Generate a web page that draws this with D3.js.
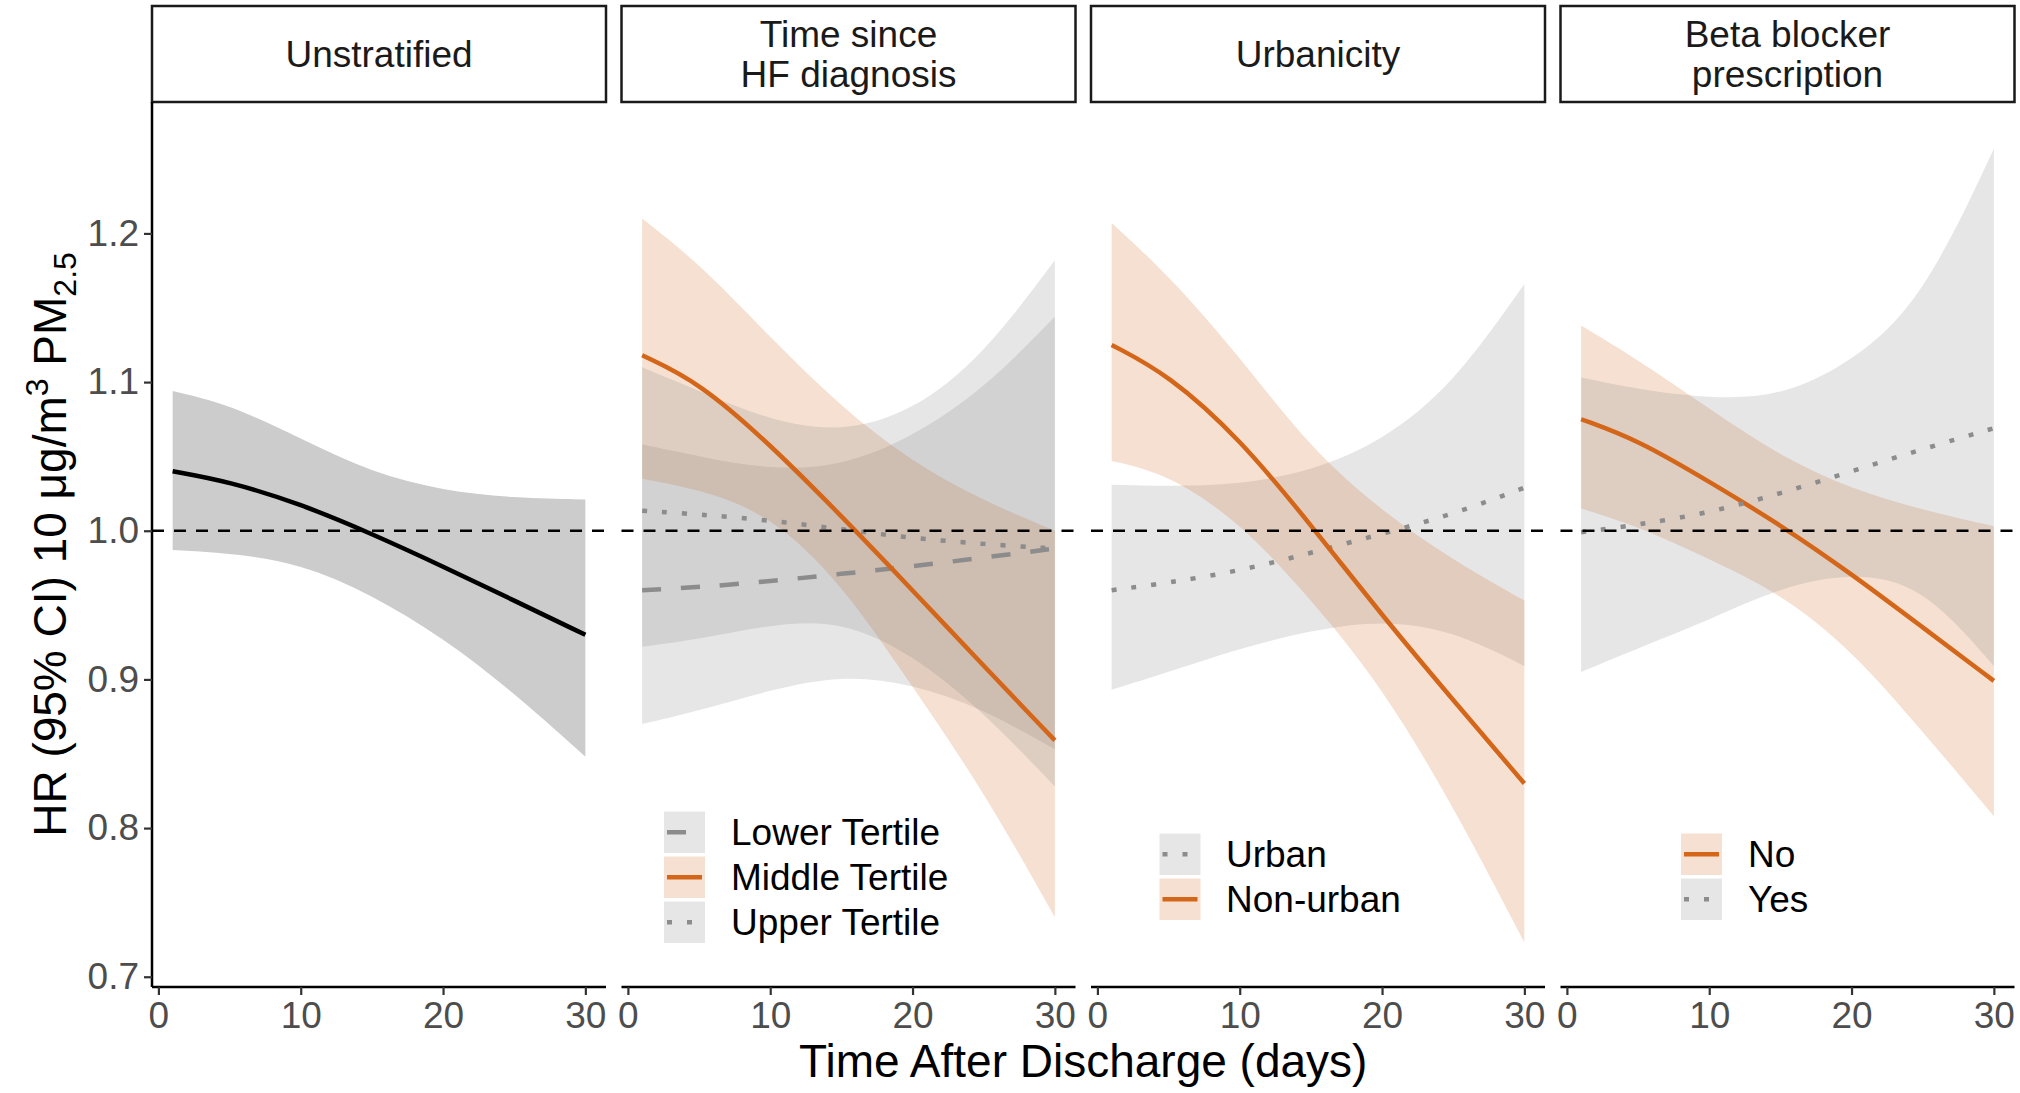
<!DOCTYPE html>
<html><head><meta charset="utf-8">
<script src="https://cdn.jsdelivr.net/npm/d3@7"></script>
<style>
body{margin:0;background:#fff}
text{font-family:"Liberation Sans",Arial,Helvetica,sans-serif}
</style>
</head><body>
<svg id="chart" width="2020" height="1093"></svg>
<script>
// ---------------- data ----------------
const days = [1, 5, 10, 15, 20, 25, 30];
const panelTitles = [["Unstratified"], ["Time since", "HF diagnosis"], ["Urbanicity"], ["Beta blocker", "prescription"]];
const xTickValues = [0, 10, 20, 30];
const yTickValues = [0.7, 0.8, 0.9, 1.0, 1.1, 1.2];

// Unstratified
const unstratFit = [1.040, 1.033, 1.018, 0.998, 0.976, 0.953, 0.930];
const unstratLo  = [0.987, 0.985, 0.978, 0.957, 0.928, 0.891, 0.848];
const unstratHi  = [1.094, 1.085, 1.062, 1.039, 1.027, 1.022, 1.021];

// Time since HF diagnosis
const lowerTertFit = [0.960, 0.962, 0.966, 0.971, 0.976, 0.982, 0.988];
const lowerTertLo  = [0.870, 0.879, 0.893, 0.903, 0.897, 0.880, 0.853];
const lowerTertHi  = [1.058, 1.050, 1.041, 1.043, 1.063, 1.095, 1.144];
const middleTertFit = [1.118, 1.100, 1.058, 1.010, 0.960, 0.909, 0.859];
const middleTertLo  = [1.035, 1.028, 1.011, 0.965, 0.895, 0.825, 0.740];
const middleTertHi  = [1.210, 1.180, 1.130, 1.083, 1.046, 1.020, 1.000];
const upperTertFit = [1.0135, 1.011, 1.007, 1.001, 0.995, 0.991, 0.988];
const upperTertLo  = [0.922, 0.927, 0.937, 0.940, 0.917, 0.878, 0.828];
const upperTertHi  = [1.110, 1.094, 1.074, 1.066, 1.080, 1.118, 1.182];

// Urbanicity
const urbanFit = [0.960, 0.965, 0.973, 0.985, 0.998, 1.011, 1.029];
const urbanLo  = [0.893, 0.905, 0.921, 0.933, 0.940, 0.933, 0.909];
const urbanHi  = [1.031, 1.030, 1.031, 1.040, 1.060, 1.098, 1.166];
const nonUrbanFit = [1.125, 1.105, 1.062, 1.004, 0.943, 0.886, 0.830];
const nonUrbanLo  = [1.047, 1.038, 1.006, 0.954, 0.895, 0.815, 0.723];
const nonUrbanHi  = [1.207, 1.172, 1.117, 1.055, 1.013, 0.980, 0.953];

// Beta blocker prescription
const bbNoFit = [1.075, 1.061, 1.033, 1.004, 0.971, 0.935, 0.899];
const bbNoLo  = [1.015, 1.003, 0.981, 0.958, 0.920, 0.865, 0.808];
const bbNoHi  = [1.138, 1.115, 1.082, 1.050, 1.028, 1.014, 1.003];
const bbYesFit = [0.999, 1.004, 1.012, 1.025, 1.040, 1.055, 1.069];
const bbYesLo  = [0.905, 0.921, 0.940, 0.962, 0.972, 0.964, 0.909];
const bbYesHi  = [1.103, 1.095, 1.089, 1.090, 1.113, 1.155, 1.257];

const series = [
  {panel:0, name:"Unstratified", fit:unstratFit, lo:unstratLo, hi:unstratHi, kind:"black", lty:"solid"},
  {panel:1, name:"Lower Tertile", fit:lowerTertFit, lo:lowerTertLo, hi:lowerTertHi, kind:"grey", lty:"dashed"},
  {panel:1, name:"Middle Tertile", fit:middleTertFit, lo:middleTertLo, hi:middleTertHi, kind:"orange", lty:"solid"},
  {panel:1, name:"Upper Tertile", fit:upperTertFit, lo:upperTertLo, hi:upperTertHi, kind:"grey", lty:"dotted"},
  {panel:2, name:"Urban", fit:urbanFit, lo:urbanLo, hi:urbanHi, kind:"grey", lty:"dotted"},
  {panel:2, name:"Non-urban", fit:nonUrbanFit, lo:nonUrbanLo, hi:nonUrbanHi, kind:"orange", lty:"solid"},
  {panel:3, name:"No", fit:bbNoFit, lo:bbNoLo, hi:bbNoHi, kind:"orange", lty:"solid"},
  {panel:3, name:"Yes", fit:bbYesFit, lo:bbYesLo, hi:bbYesHi, kind:"grey", lty:"dotted"}
];

// ---------------- styles ----------------
const lineColor = {black:"#000000", grey:"#8C8C8C", orange:"#D4661A"};
const bandColor = {black:"#000000", grey:"#808080", orange:"#D4661A"};
const bandAlpha = 0.2;
const LW = 4.5;
const dash = {solid:null, dashed:"19,20", dotted:"5,15"};
const curve = d3.curveBasis;

// ---------------- layout ----------------
const svg = d3.select("#chart");
const panelLefts = [152, 621.5, 1091, 1560.5];
const panelW = 454;
const stripTop = 6, stripBottom = 102;
const plotTop = 102, plotBottom = 987;

const y = d3.scaleLinear().domain([0.6931, 1.2884]).range([plotBottom, plotTop]);
const xFor = left => d3.scaleLinear().domain([-0.45, 31.45]).range([left, left + panelW]);

const legends = {
  1: {keyX: 664, textX: 731, top: 811.5, order: ["Lower Tertile", "Middle Tertile", "Upper Tertile"]},
  2: {keyX: 1159.5, textX: 1226, top: 833.5, order: ["Urban", "Non-urban"]},
  3: {keyX: 1681, textX: 1748, top: 833.5, order: ["No", "Yes"]}
};

panelLefts.forEach((left, pi) => {
  const x = xFor(left);
  const g = svg.append("g");

  // strip
  g.append("rect").attr("x", left).attr("y", stripTop).attr("width", panelW).attr("height", stripBottom - stripTop)
    .attr("fill", "#fff").attr("stroke", "#1A1A1A").attr("stroke-width", 2.5);
  const lines = panelTitles[pi];
  const cy = (stripTop + stripBottom) / 2;
  lines.forEach((t, i) => {
    g.append("text").attr("x", left + panelW / 2)
      .attr("y", cy + (i - (lines.length - 1) / 2) * 40)
      .attr("text-anchor", "middle").attr("dominant-baseline", "central")
      .attr("font-size", 37).attr("fill", "#1A1A1A").text(t);
  });

  const ps = series.filter(s => s.panel === pi);
  // ribbons
  ps.forEach(s => {
    const area = d3.area()
      .x((d, i) => x(days[i])).y0((d, i) => y(s.lo[i])).y1((d, i) => y(s.hi[i]))
      .curve(curve);
    g.append("path").datum(s.fit).attr("d", area)
      .attr("fill", bandColor[s.kind]).attr("fill-opacity", bandAlpha);
  });
  // lines
  ps.forEach(s => {
    const line = d3.line().x((d, i) => x(days[i])).y(d => y(d)).curve(curve);
    g.append("path").datum(s.fit).attr("d", line).attr("fill", "none")
      .attr("stroke", lineColor[s.kind]).attr("stroke-width", LW)
      .attr("stroke-dasharray", dash[s.lty]);
  });
  // reference line at 1
  g.append("line").attr("x1", left).attr("x2", left + panelW).attr("y1", y(1)).attr("y2", y(1))
    .attr("stroke", "#000").attr("stroke-width", 2.6).attr("stroke-dasharray", "12,10");

  // x axis
  const xAxis = d3.axisBottom(x).tickValues(xTickValues).tickSize(8).tickPadding(7).tickFormat(d3.format("d"));
  const ax = g.append("g").attr("transform", `translate(0,${plotBottom})`).call(xAxis);
  ax.select(".domain").attr("stroke", "#000").attr("stroke-width", 2.5).attr("d", `M${left},0H${left + panelW}`);
  ax.selectAll(".tick line").attr("stroke", "#333").attr("stroke-width", 2.2);
  ax.selectAll(".tick text").attr("font-size", 37).attr("fill", "#4D4D4D")
    .attr("font-family", '"Liberation Sans",Arial,sans-serif');

  // y axis only on first panel
  if (pi === 0) {
    const yAxis = d3.axisLeft(y).tickValues(yTickValues).tickSize(8).tickPadding(5).tickFormat(d3.format(".1f"));
    const ay = g.append("g").attr("transform", `translate(${left},0)`).call(yAxis);
    ay.select(".domain").attr("stroke", "#000").attr("stroke-width", 2.5).attr("d", `M0,${plotTop}V${plotBottom}`);
    ay.selectAll(".tick line").attr("stroke", "#333").attr("stroke-width", 2.2);
    ay.selectAll(".tick text").attr("font-size", 37).attr("fill", "#4D4D4D")
      .attr("font-family", '"Liberation Sans",Arial,sans-serif');
  }

  // legend
  const lg = legends[pi];
  if (lg) {
    lg.order.forEach((name, i) => {
      const s = ps.find(q => q.name === name);
      const top = lg.top + i * 45;
      g.append("rect").attr("x", lg.keyX).attr("y", top).attr("width", 41).attr("height", 41.5)
        .attr("fill", "#fff");
      g.append("rect").attr("x", lg.keyX).attr("y", top).attr("width", 41).attr("height", 41.5)
        .attr("fill", bandColor[s.kind]).attr("fill-opacity", bandAlpha);
      g.append("line").attr("x1", lg.keyX + 3).attr("x2", lg.keyX + 38)
        .attr("y1", top + 20.75).attr("y2", top + 20.75)
        .attr("stroke", lineColor[s.kind]).attr("stroke-width", LW)
        .attr("stroke-dasharray", dash[s.lty]);
      g.append("text").attr("x", lg.textX).attr("y", top + 21).attr("dominant-baseline", "central")
        .attr("font-size", 37).attr("fill", "#000").text(name);
    });
  }
});

// axis titles
svg.append("text").attr("x", 152 + (2014.5 - 152) / 2).attr("y", 1077).attr("text-anchor", "middle")
  .attr("font-size", 46).attr("fill", "#000").text("Time After Discharge (days)");

const yt = svg.append("text").attr("transform", `translate(66,${(plotTop + plotBottom) / 2}) rotate(-90)`)
  .attr("text-anchor", "middle").attr("font-size", 46).attr("fill", "#000");
yt.append("tspan").text("HR (95% CI) 10 μg/m");
yt.append("tspan").attr("font-size", 32).attr("dy", -18).text("3");
yt.append("tspan").attr("dy", 18).text(" PM");
yt.append("tspan").attr("font-size", 32).attr("dy", 10).text("2.5");
</script>
</body></html>
